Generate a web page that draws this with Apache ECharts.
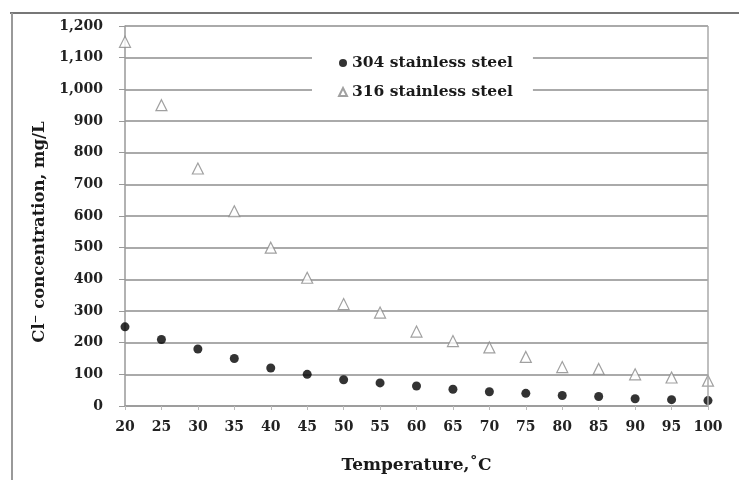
<!DOCTYPE html>
<html><head><meta charset="utf-8">
<script src="https://cdn.jsdelivr.net/npm/echarts@6/dist/echarts.min.js"></script>
<style>html,body{margin:0;padding:0;background:#fff}#c{width:739px;height:480px}</style>
</head><body><div id="c"></div>
<script>
const temps = [20,25,30,35,40,45,50,55,60,65,70,75,80,85,90,95,100];
const ss304 = [250,210,180,150,120,100,83,73,63,53,45,40,33,30,23,20,17];
const ss316 = [1150,950,750,615,500,405,322,295,235,205,185,155,123,117,100,90,80];
const seriesNames = ['304 stainless steel','316 stainless steel'];
const font = '"DejaVu Serif",serif';
const chart = echarts.init(document.getElementById('c'));
chart.setOption({
  animation:false,
  backgroundColor:'#fff',
  textStyle:{fontFamily:font},
  graphic:[
    {type:'line',shape:{x1:10,y1:13,x2:739,y2:13},style:{stroke:'#777',lineWidth:2}},
    {type:'line',shape:{x1:12,y1:13,x2:12,y2:480},style:{stroke:'#999',lineWidth:2}}
  ],
  grid:{left:125,right:31,top:26,bottom:74},
  legend:{
    orient:'vertical',left:312,top:53,itemGap:13,
    backgroundColor:'#fff',padding:[2,20,2,26],
    itemWidth:8,itemHeight:8,
    textStyle:{fontFamily:font,fontWeight:'bold',fontSize:15.5,color:'#1a1a1a'},
    data:seriesNames
  },
  xAxis:{
    type:'value',min:20,max:100,interval:5,
    name:'Temperature,˚C',nameLocation:'middle',nameGap:51,
    nameTextStyle:{fontFamily:font,fontWeight:'bold',fontSize:17,color:'#1a1a1a'},
    axisLine:{lineStyle:{color:'#999',width:1.5}},
    axisTick:{show:true,length:4,lineStyle:{color:'#bbb'}},
    axisLabel:{fontFamily:font,fontWeight:'bold',fontSize:14,color:'#222',margin:14},
    splitLine:{show:false}
  },
  yAxis:{
    type:'value',min:0,max:1200,interval:100,
    name:'Cl⁻ concentration, mg/L',nameLocation:'middle',nameGap:75,nameRotate:90,
    nameTextStyle:{fontFamily:font,fontWeight:'bold',fontSize:16.5,color:'#1a1a1a',padding:[0,32,0,0]},
    axisLine:{show:true,lineStyle:{color:'#999',width:1.5}},
    axisTick:{show:true,length:6,lineStyle:{color:'#999'}},
    axisLabel:{fontFamily:font,fontWeight:'bold',fontSize:14,color:'#222',margin:22,
      formatter:v=>v.toLocaleString('en-US')},
    splitLine:{show:true,lineStyle:{color:'#aaa',width:2}}
  },
  series:[
    {name:seriesNames[0],type:'scatter',data:temps.map((t,i)=>[t,ss304[i]]),
     symbol:'circle',symbolSize:9,itemStyle:{color:'#000'},z:3},
    {name:seriesNames[1],type:'scatter',data:temps.map((t,i)=>[t,ss316[i]]),
     symbol:'triangle',symbolSize:11,itemStyle:{color:'#fff',borderColor:'#888',borderWidth:1.2},z:3,
     markLine:{silent:true,symbol:'none',label:{show:false},lineStyle:{color:'#aaa',type:'solid',width:1.5},data:[{xAxis:100}]}}
  ]
});
</script></body></html>
